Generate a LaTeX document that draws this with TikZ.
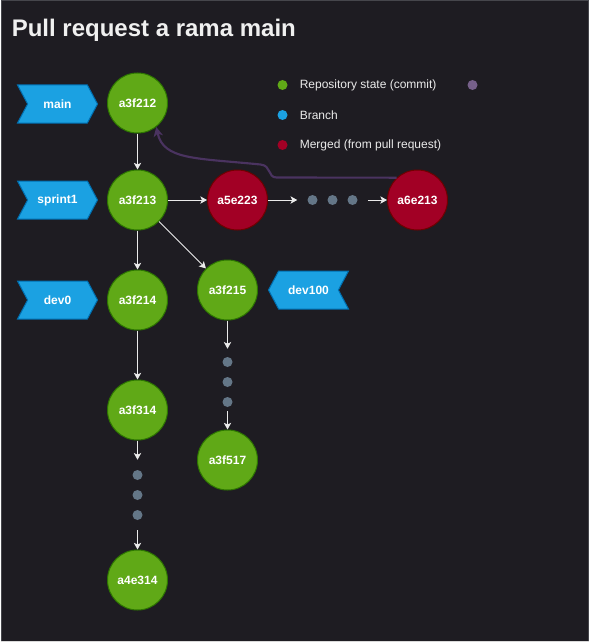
\documentclass[tikz,border=0pt]{standalone}
\usepackage{fontspec}
\setmainfont{Liberation Sans}
\usetikzlibrary{shapes.symbols,arrows.meta}
\definecolor{bg}{RGB}{30,28,34}
\definecolor{frame}{RGB}{70,70,76}
\definecolor{gfill}{HTML}{60A917}
\definecolor{gline}{HTML}{2D7600}
\definecolor{rfill}{HTML}{A20025}
\definecolor{rline}{HTML}{6F0000}
\definecolor{bfill}{HTML}{1BA1E2}
\definecolor{bline}{HTML}{006EAF}
\definecolor{dotc}{HTML}{647687}
\definecolor{pfill}{HTML}{76608A}
\definecolor{pline}{HTML}{4A3360}
\definecolor{titlec}{RGB}{240,240,240}
\begin{document}
\begin{tikzpicture}[x=0.75pt,y=-0.75pt,
  lbl/.style={font=\fontsize{9}{11}\selectfont\bfseries, text=white},
  commit/.style={circle, minimum size=45pt, inner sep=0pt, line width=0.75pt, fill=gfill, draw=gline, lbl},
  merged/.style={circle, minimum size=45pt, inner sep=0pt, line width=0.75pt, fill=rfill, draw=rline, lbl},
  branchR/.style={signal, signal to=east, signal from=west, signal pointer angle=124, minimum width=60pt, minimum height=28.5pt, inner sep=0pt, fill=bfill, draw=bline, line width=0.75pt, lbl},
  branchL/.style={signal, signal to=west, signal from=east, signal pointer angle=124, minimum width=60pt, minimum height=28.5pt, inner sep=0pt, fill=bfill, draw=bline, line width=0.75pt, lbl},
  hdot/.style={circle, minimum size=7.5pt, inner sep=0pt, fill=dotc},
  ldot/.style={circle, minimum size=7.5pt, inner sep=0pt},
  legtext/.style={anchor=west, font=\fontsize{9}{11}\selectfont, text=white!92!black, inner sep=0pt},
  edge/.style={draw=white!92!black, line width=0.75pt, -{Stealth[length=5pt, width=5.5pt, inset=1.2pt]}},
  mergeedge/.style={draw=pline, line width=1.6pt, -{Stealth[length=7pt, width=7pt, inset=2pt]}}
]
% background
\fill[bg] (0,0) rectangle (588,642);
\draw[frame, line width=0.75pt] (0.5,641.5) -- (0.5,0.5) -- (587.5,0.5) -- (587.5,641.5);
\draw[white!85!black, line width=0.75pt] (0,641.5) -- (588,641.5);
\useasboundingbox (0,0) rectangle (588,642);

% title
\node[anchor=base west, inner sep=0pt, text=titlec, font=\fontsize{18}{22}\selectfont\bfseries] (title) at (11,37) {Pull request a rama main};

% commits
\node[commit] (c212) at (137,103) {a3f212};
\node[commit] (c213) at (137,200) {a3f213};
\node[merged] (c223) at (237,200) {a5e223};
\node[merged] (c6e2) at (417,200) {a6e213};
\node[commit] (c214) at (137,300) {a3f214};
\node[commit] (c215) at (227,290) {a3f215};
\node[commit] (c314) at (137,410) {a3f314};
\node[commit] (c517) at (227,460) {a3f517};
\node[commit] (c4e) at (137,580) {a4e314};

% branches
\node[branchR] (bmain) at (57,104) {main};
\node[branchR] (bsprint) at (57,200) {sprint1};
\node[branchR] (bdev0) at (57,300) {dev0};
\node[branchL] (bdev100) at (308,290) {dev100};

% ellipsis dots
\node[hdot] (h1) at (312,200) {};
\node[hdot] (h2) at (332,200) {};
\node[hdot] (h3) at (352,200) {};
\node[hdot] (v1) at (227,362) {};
\node[hdot] (v2) at (227,382) {};
\node[hdot] (v3) at (227,402) {};
\node[hdot] (d1) at (137,475) {};
\node[hdot] (d2) at (137,495) {};
\node[hdot] (d3) at (137,515) {};

% connectors
\draw[edge] (c212) -- (c213);
\draw[edge] (c213) -- (c214);
\draw[edge] (c213) -- (c215);
\draw[edge] (c213) -- (c223);
\draw[edge, shorten >=7.5pt] (c223) -- (h1);
\draw[edge, shorten <=7.5pt] (h3) -- (c6e2);
\draw[edge] (c214) -- (c314);
\draw[edge, shorten >=6pt] (c215) -- (v1);
\draw[edge, shorten <=3pt] (v3) -- (c517);
\draw[edge, shorten >=7.5pt] (c314) -- (d1);
\draw[edge, shorten <=7.5pt] (d3) -- (c4e);

% merge curve
\draw[mergeedge] (c6e2.133) -- (276,177.5)
  .. controls (267,177.5) and (271,165.5) .. (260,164.5)
  .. controls (195,158) and (163,160) .. (c212.-52);

% legend
\node[ldot, fill=gfill] (lg) at (282,85) {};
\node[ldot, fill=bfill] (lb) at (282,115) {};
\node[ldot, fill=rfill] (lr) at (282,145) {};
\node[ldot, fill=pfill] (lp) at (472,85) {};
\node[legtext] (tg) at (299,85) {Repository state (commit)};
\node[legtext] (tb) at (299,115) {Branch};
\node[legtext] (tr) at (299,145) {Merged (from pull request)};
\end{tikzpicture}
\end{document}
